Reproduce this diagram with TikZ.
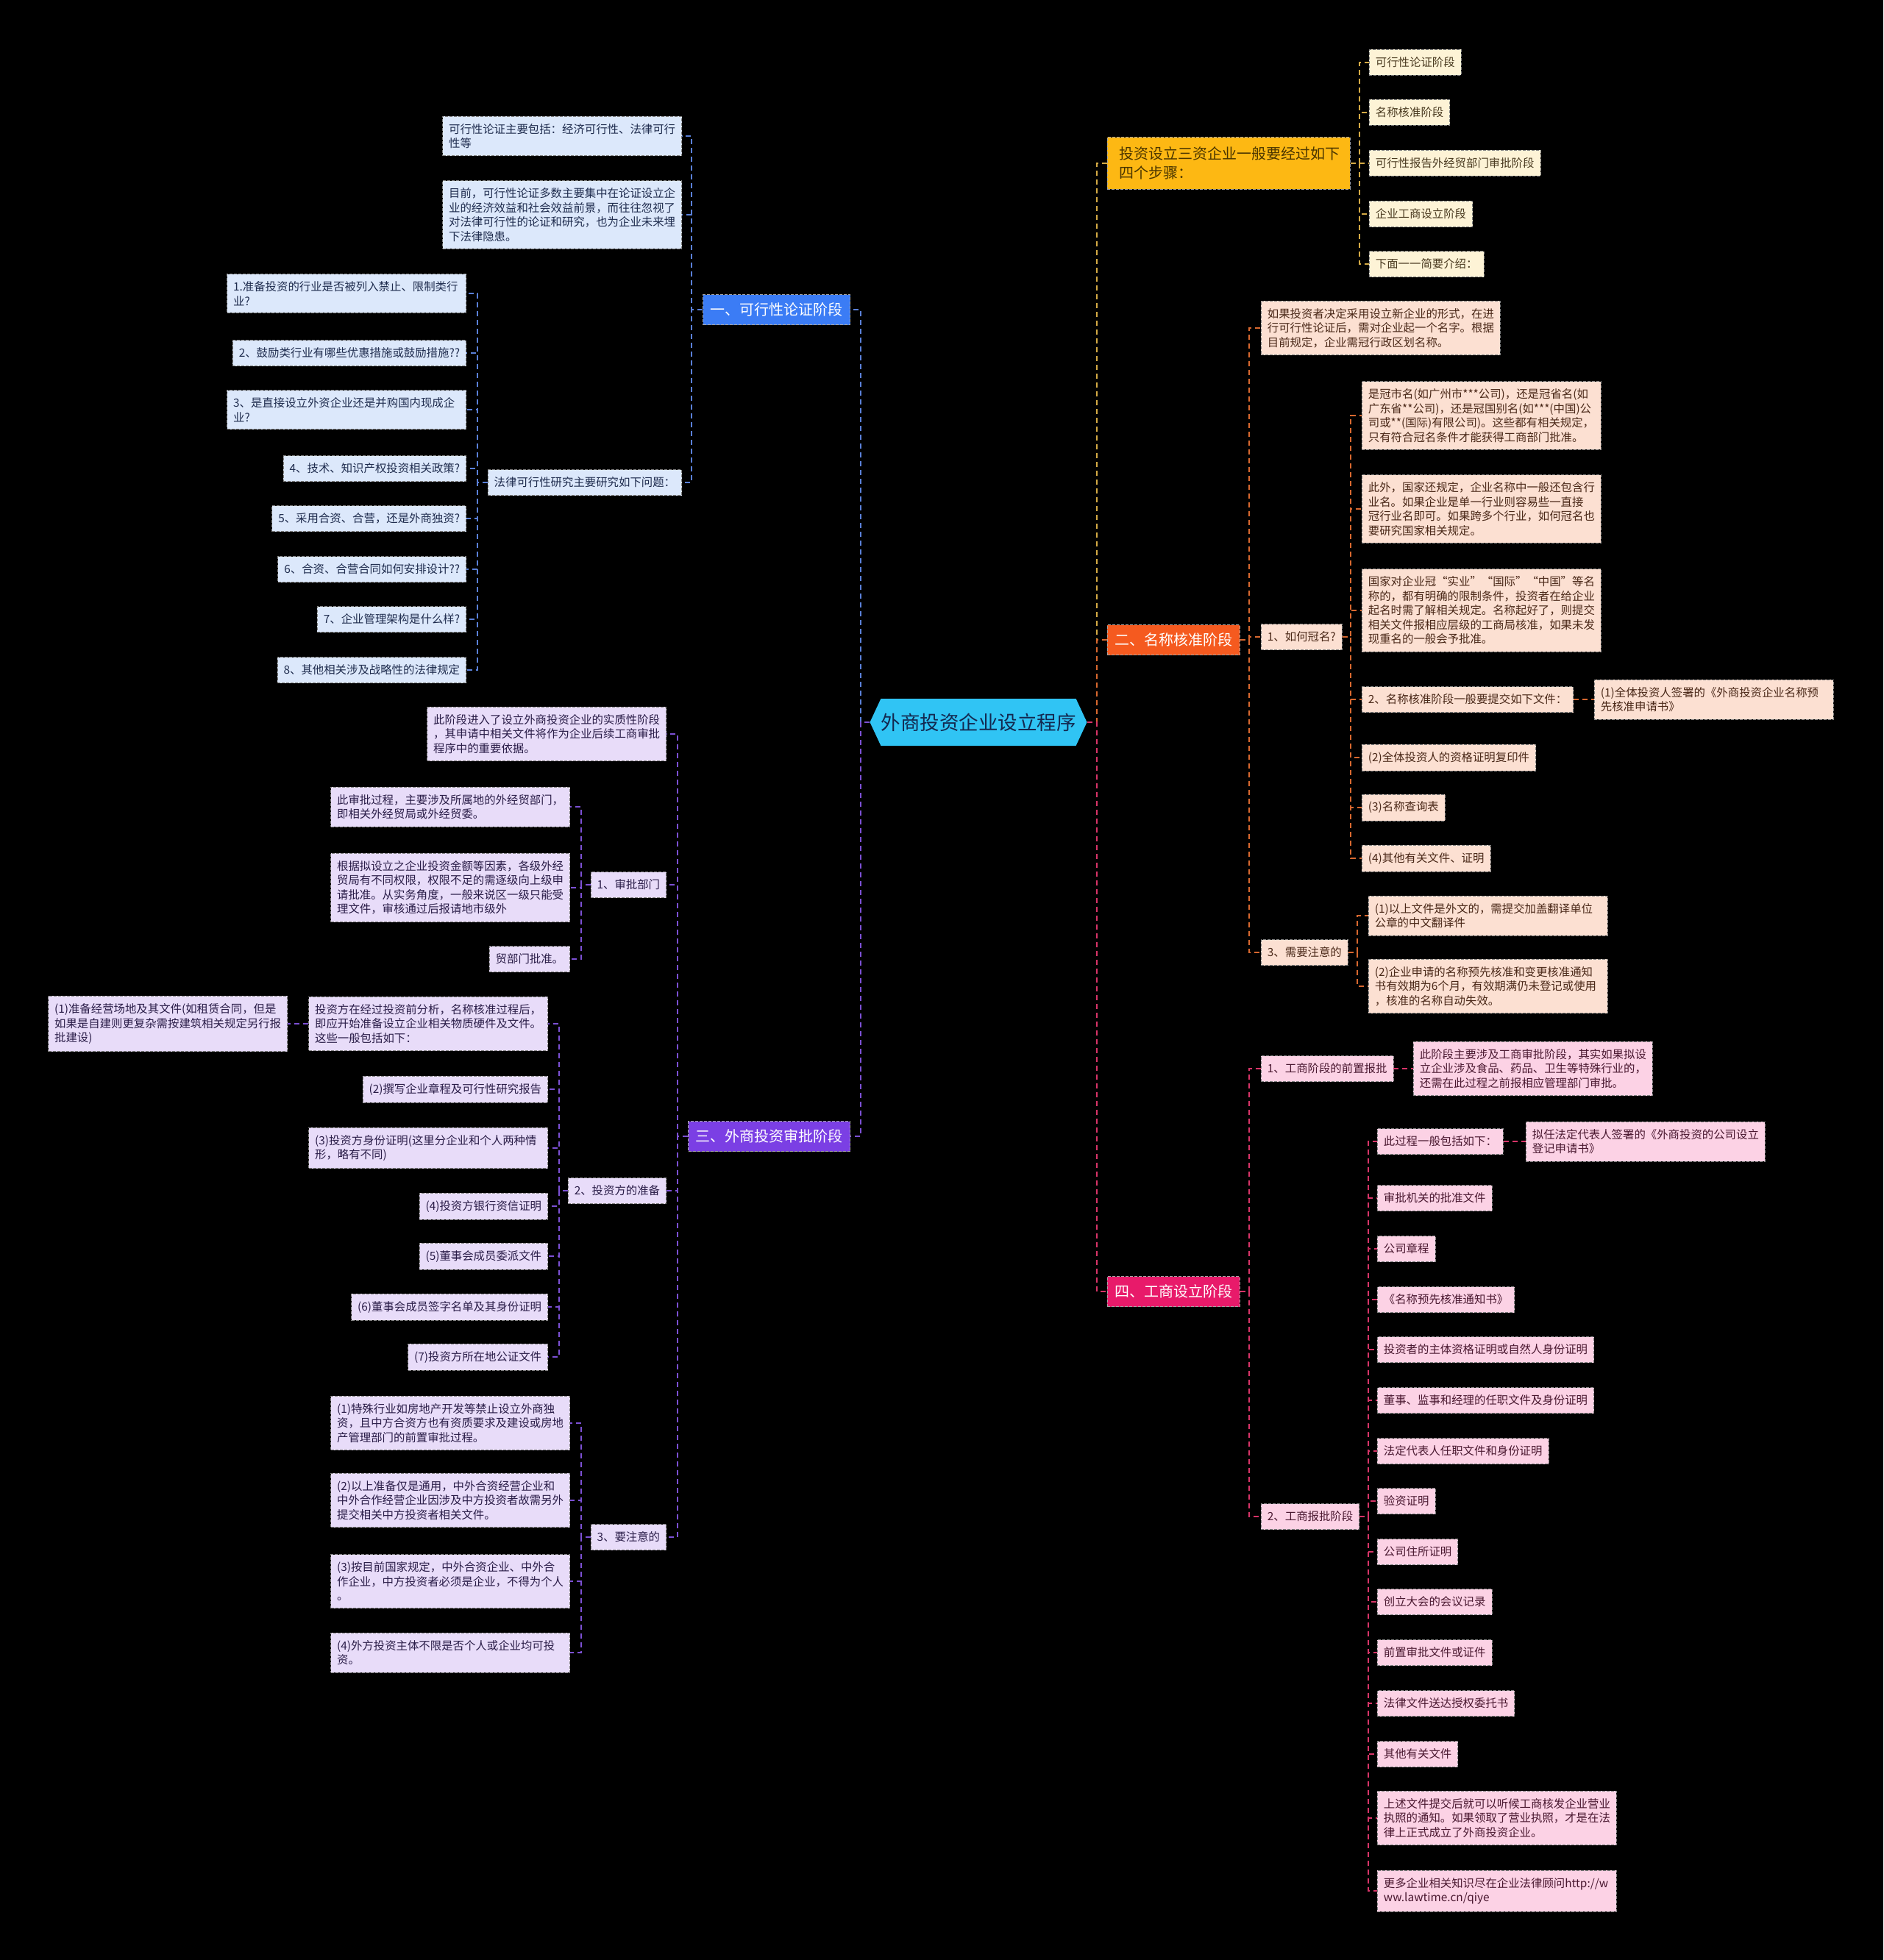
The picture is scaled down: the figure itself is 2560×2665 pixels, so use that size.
\documentclass[tikz,border=0pt]{standalone}
\usepackage{fontspec}
\setmainfont{Noto Sans CJK SC}
\usetikzlibrary{shapes.symbols}
\definecolor{rootc}{HTML}{30C4F4}
\definecolor{roott}{HTML}{13284F}
\definecolor{bluem}{HTML}{3B7CF5}
\definecolor{bluel}{HTML}{DCE8FB}
\definecolor{bluet}{HTML}{1F2C4E}
\definecolor{bluec}{HTML}{5A80D8}
\definecolor{purm}{HTML}{7B3FE4}
\definecolor{purl}{HTML}{E8DCF9}
\definecolor{purt}{HTML}{2A1D48}
\definecolor{purc}{HTML}{7C50D4}
\definecolor{ambm}{HTML}{FDB813}
\definecolor{ambmt}{HTML}{4A3500}
\definecolor{ambl}{HTML}{FDF3D6}
\definecolor{ambt}{HTML}{4A3A20}
\definecolor{ambc}{HTML}{D4AA45}
\definecolor{orm}{HTML}{F55A1F}
\definecolor{orl}{HTML}{FCE0D2}
\definecolor{ort}{HTML}{4A2818}
\definecolor{orc}{HTML}{D8682F}
\definecolor{crm}{HTML}{E81A6A}
\definecolor{crl}{HTML}{FCD2E5}
\definecolor{crt}{HTML}{4A1830}
\definecolor{crc}{HTML}{D83468}
\newcommand\mmlink[4]{\draw[#1] (#2) -- (#2 -| #3) |- (#4);}
\tikzset{
 leafbase/.style={font=\fontsize{15.4}{19.5}\selectfont, inner xsep=8.5pt, inner ysep=10pt, minimum height=35pt, draw=gray, dash pattern=on 4pt off 2pt, line width=0.8pt, align=left},
 para/.style={text width=308pt},
 bleaf/.style={leafbase, fill=bluel, text=bluet},
 pleaf/.style={leafbase, fill=purl, text=purt},
 aleaf/.style={leafbase, fill=ambl, text=ambt},
 oleaf/.style={leafbase, fill=orl, text=ort},
 cleaf/.style={leafbase, fill=crl, text=crt},
 mainbase/.style={font=\fontsize{20}{26}\selectfont, inner xsep=10pt, inner ysep=9pt, minimum height=41pt, draw=gray!70, dash pattern=on 4pt off 2pt, line width=0.8pt, align=left},
 linkbase/.style={dash pattern=on 7pt off 5pt, line width=2pt},
 bl/.style={linkbase, draw=bluec},
 pl/.style={linkbase, draw=purc},
 al/.style={linkbase, draw=ambc},
 ol/.style={linkbase, draw=orc},
 cl/.style={linkbase, draw=crc},
}
\begin{document}
\begin{tikzpicture}[x=1pt,y=-1pt]
\fill[black] (0,0) rectangle (2560,2665);
\useasboundingbox (0,0) rectangle (2560,2665);

% root
\node[signal, signal to=west and east, signal pointer angle=130, fill=rootc, text=roott, minimum width=295pt, minimum height=64pt, inner sep=0pt, font=\fontsize{26.5}{30}\selectfont] (root) at (1330,982) {外商投资企业设立程序};

% bus coordinates
\coordinate (rootL) at (1170,0);
\coordinate (rootR) at (1491,0);
\coordinate (busB) at (940,0);
\coordinate (busQ) at (649,0);
\coordinate (busP) at (921,0);
\coordinate (busP1) at (790,0);
\coordinate (busP2) at (760,0);
\coordinate (busP3) at (790,0);
\coordinate (busA) at (1848,0);
\coordinate (busO) at (1698,0);
\coordinate (busO2) at (1836,0);
\coordinate (busO3) at (1845,0);
\coordinate (busC) at (1698,0);
\coordinate (busC2) at (1860,0);

% ===== blue branch =====
\node[mainbase, fill=bluem, text=white, anchor=east] (b0) at (1156,421) {一、可行性论证阶段};
\node[bleaf, para, anchor=east] (b1) at (927,185) {可行性论证主要包括：经济可行性、法律可行\\性等};
\node[bleaf, para, anchor=east] (b2) at (927,292) {目前，可行性论证多数主要集中在论证设立企\\业的经济效益和社会效益前景，而往往忽视了\\对法律可行性的论证和研究，也为企业未来埋\\下法律隐患。};
\node[bleaf, anchor=east] (b3) at (927,656) {法律可行性研究主要研究如下问题：};
\node[bleaf, para, anchor=east] (q1) at (634,399) {1.准备投资的行业是否被列入禁止、限制类行\\业?};
\node[bleaf, anchor=east] (q2) at (634,480) {2、鼓励类行业有哪些优惠措施或鼓励措施??};
\node[bleaf, para, anchor=east] (q3) at (634,557) {3、是直接设立外资企业还是并购国内现成企\\业?};
\node[bleaf, anchor=east] (q4) at (634,637) {4、技术、知识产权投资相关政策?};
\node[bleaf, anchor=east] (q5) at (634,705) {5、采用合资、合营，还是外商独资?};
\node[bleaf, anchor=east] (q6) at (634,774) {6、合资、合营合同如何安排设计??};
\node[bleaf, anchor=east] (q7) at (634,842) {7、企业管理架构是什么样?};
\node[bleaf, anchor=east] (q8) at (634,911) {8、其他相关涉及战略性的法律规定};

% ===== purple branch =====
\node[mainbase, fill=purm, text=white, anchor=east] (p0) at (1156,1545) {三、外商投资审批阶段};
\node[pleaf, para, anchor=east] (pa) at (906,998) {此阶段进入了设立外商投资企业的实质性阶段\\，其申请中相关文件将作为企业后续工商审批\\程序中的重要依据。};
\node[pleaf, anchor=east] (p1) at (906,1203) {1、审批部门};
\node[pleaf, para, anchor=east] (p11) at (775,1097) {此审批过程，主要涉及所属地的外经贸部门，\\即相关外经贸局或外经贸委。};
\node[pleaf, para, anchor=east] (p12) at (775,1207) {根据拟设立之企业投资金额等因素，各级外经\\贸局有不同权限，权限不足的需逐级向上级申\\请批准。从实务角度，一般来说区一级只能受\\理文件，审核通过后报请地市级外};
\node[pleaf, anchor=east] (p13) at (775,1304) {贸部门批准。};
\node[pleaf, anchor=east] (p2) at (906,1619) {2、投资方的准备};
\node[pleaf, para, anchor=east] (p21) at (745,1392) {投资方在经过投资前分析，名称核准过程后，\\即应开始准备设立企业相关物质硬件及文件。\\这些一般包括如下：};
\node[pleaf, para, anchor=east] (p21a) at (391,1392) {(1)准备经营场地及其文件(如租赁合同，但是\\如果是自建则更复杂需按建筑相关规定另行报\\批建设)};
\node[pleaf, anchor=east] (p22) at (745,1481) {(2)撰写企业章程及可行性研究报告};
\node[pleaf, para, anchor=east] (p23) at (745,1561) {(3)投资方身份证明(这里分企业和个人两种情\\形，略有不同)};
\node[pleaf, anchor=east] (p24) at (745,1640) {(4)投资方银行资信证明};
\node[pleaf, anchor=east] (p25) at (745,1708) {(5)董事会成员委派文件};
\node[pleaf, anchor=east] (p26) at (745,1777) {(6)董事会成员签字名单及其身份证明};
\node[pleaf, anchor=east] (p27) at (745,1845) {(7)投资方所在地公证文件};
\node[pleaf, anchor=east] (p3) at (906,2090) {3、要注意的};
\node[pleaf, para, anchor=east] (p31) at (775,1935) {(1)特殊行业如房地产开发等禁止设立外商独\\资，且中方合资方也有资质要求及建设或房地\\产管理部门的前置审批过程。};
\node[pleaf, para, anchor=east] (p32) at (775,2040) {(2)以上准备仅是通用，中外合资经营企业和\\中外合作经营企业因涉及中方投资者故需另外\\提交相关中方投资者相关文件。};
\node[pleaf, para, anchor=east] (p33) at (775,2150) {(3)按目前国家规定，中外合资企业、中外合\\作企业，中方投资者必须是企业，不得为个人\\。};
\node[pleaf, para, anchor=east] (p34) at (775,2247) {(4)外方投资主体不限是否个人或企业均可投\\资。};

% ===== amber branch =====
\node[mainbase, fill=ambm, text=ambmt, text width=298pt, inner xsep=16pt, inner ysep=13pt, anchor=west] (a0) at (1505,222) {投资设立三资企业一般要经过如下\\四个步骤：};
\node[aleaf, anchor=west] (a1) at (1861,85) {可行性论证阶段};
\node[aleaf, anchor=west] (a2) at (1861,153) {名称核准阶段};
\node[aleaf, anchor=west] (a3) at (1861,222) {可行性报告外经贸部门审批阶段};
\node[aleaf, anchor=west] (a4) at (1861,291) {企业工商设立阶段};
\node[aleaf, anchor=west] (a5) at (1861,359) {下面一一简要介绍：};

% ===== orange branch =====
\node[mainbase, fill=orm, text=white, anchor=west] (o0) at (1505,870) {二、名称核准阶段};
\node[oleaf, para, anchor=west] (o1) at (1714,446) {如果投资者决定采用设立新企业的形式，在进\\行可行性论证后，需对企业起一个名字。根据\\目前规定，企业需冠行政区划名称。};
\node[oleaf, anchor=west] (o2) at (1714,866) {1、如何冠名?};
\node[oleaf, para, anchor=west] (o21) at (1851,565) {是冠市名(如广州市***公司)，还是冠省名(如\\广东省**公司)，还是冠国别名(如***(中国)公\\司或**(国际)有限公司)。这些都有相关规定，\\只有符合冠名条件才能获得工商部门批准。};
\node[oleaf, para, anchor=west] (o22) at (1851,692) {此外，国家还规定，企业名称中一般还包含行\\业名。如果企业是单一行业则容易些一直接\\冠行业名即可。如果跨多个行业，如何冠名也\\要研究国家相关规定。};
\node[oleaf, para, anchor=west] (o23) at (1851,830) {国家对企业冠“实业”“国际”“中国”等名\\称的，都有明确的限制条件，投资者在给企业\\起名时需了解相关规定。名称起好了，则提交\\相关文件报相应层级的工商局核准，如果未发\\现重名的一般会予批准。};
\node[oleaf, anchor=west] (o24) at (1851,951) {2、名称核准阶段一般要提交如下文件：};
\node[oleaf, para, anchor=west] (o241) at (2167,951) {(1)全体投资人签署的《外商投资企业名称预\\先核准申请书》};
\node[oleaf, anchor=west] (o25) at (1851,1030) {(2)全体投资人的资格证明复印件};
\node[oleaf, anchor=west] (o26) at (1851,1098) {(3)名称查询表};
\node[oleaf, anchor=west] (o27) at (1851,1167) {(4)其他有关文件、证明};
\node[oleaf, anchor=west] (o3) at (1714,1295) {3、需要注意的};
\node[oleaf, para, anchor=west] (o31) at (1860,1245) {(1)以上文件是外文的，需提交加盖翻译单位\\公章的中文翻译件};
\node[oleaf, para, anchor=west] (o32) at (1860,1341) {(2)企业申请的名称预先核准和变更核准通知\\书有效期为6个月，有效期满仍未登记或使用\\，核准的名称自动失效。};

% ===== crimson branch =====
\node[mainbase, fill=crm, text=white, anchor=west] (c0) at (1505,1756) {四、工商设立阶段};
\node[cleaf, anchor=west] (c1) at (1714,1453) {1、工商阶段的前置报批};
\node[cleaf, para, anchor=west] (c11) at (1921,1453) {此阶段主要涉及工商审批阶段，其实如果拟设\\立企业涉及食品、药品、卫生等特殊行业的，\\还需在此过程之前报相应管理部门审批。};
\node[cleaf, anchor=west] (c2) at (1714,2062) {2、工商报批阶段};
\node[cleaf, anchor=west] (d1) at (1872,1552) {此过程一般包括如下：};
\node[cleaf, para, anchor=west] (d1a) at (2074,1552) {拟任法定代表人签署的《外商投资的公司设立\\登记申请书》};
\node[cleaf, anchor=west] (d2) at (1872,1629) {审批机关的批准文件};
\node[cleaf, anchor=west] (d3) at (1872,1698) {公司章程};
\node[cleaf, anchor=west] (d4) at (1872,1767) {《名称预先核准通知书》};
\node[cleaf, anchor=west] (d5) at (1872,1835) {投资者的主体资格证明或自然人身份证明};
\node[cleaf, anchor=west] (d6) at (1872,1904) {董事、监事和经理的任职文件及身份证明};
\node[cleaf, anchor=west] (d7) at (1872,1973) {法定代表人任职文件和身份证明};
\node[cleaf, anchor=west] (d8) at (1872,2041) {验资证明};
\node[cleaf, anchor=west] (d9) at (1872,2110) {公司住所证明};
\node[cleaf, anchor=west] (d10) at (1872,2178) {创立大会的会议记录};
\node[cleaf, anchor=west] (d11) at (1872,2247) {前置审批文件或证件};
\node[cleaf, anchor=west] (d12) at (1872,2316) {法律文件送达授权委托书};
\node[cleaf, anchor=west] (d13) at (1872,2385) {其他有关文件};
\node[cleaf, para, anchor=west] (d14) at (1872,2472) {上述文件提交后就可以听候工商核发企业营业\\执照的通知。如果领取了营业执照，才是在法\\律上正式成立了外商投资企业。};
\node[cleaf, para, anchor=west] (d15) at (1872,2571) {更多企业相关知识尽在企业法律顾问http://w\\ww.lawtime.cn/qiye};

% ===== connectors =====
\mmlink{bl}{root.west}{rootL}{b0.east}
\mmlink{pl}{root.west}{rootL}{p0.east}
\mmlink{al}{root.east}{rootR}{a0.west}
\mmlink{ol}{root.east}{rootR}{o0.west}
\mmlink{cl}{root.east}{rootR}{c0.west}

\foreach \c in {b1,b2,b3} {\mmlink{bl}{b0.west}{busB}{\c.east}}
\foreach \c in {q1,q2,q3,q4,q5,q6,q7,q8} {\mmlink{bl}{b3.west}{busQ}{\c.east}}

\foreach \c in {pa,p1,p2,p3} {\mmlink{pl}{p0.west}{busP}{\c.east}}
\foreach \c in {p11,p12,p13} {\mmlink{pl}{p1.west}{busP1}{\c.east}}
\foreach \c in {p21,p22,p23,p24,p25,p26,p27} {\mmlink{pl}{p2.west}{busP2}{\c.east}}
\draw[pl] (p21.west) -- (p21a.east);
\foreach \c in {p31,p32,p33,p34} {\mmlink{pl}{p3.west}{busP3}{\c.east}}

\foreach \c in {a1,a2,a3,a4,a5} {\mmlink{al}{a0.east}{busA}{\c.west}}

\foreach \c in {o1,o2,o3} {\mmlink{ol}{o0.east}{busO}{\c.west}}
\foreach \c in {o21,o22,o23,o24,o25,o26,o27} {\mmlink{ol}{o2.east}{busO2}{\c.west}}
\draw[ol] (o24.east) -- (o241.west);
\foreach \c in {o31,o32} {\mmlink{ol}{o3.east}{busO3}{\c.west}}

\foreach \c in {c1,c2} {\mmlink{cl}{c0.east}{busC}{\c.west}}
\draw[cl] (c1.east) -- (c11.west);
\foreach \c in {d1,d2,d3,d4,d5,d6,d7,d8,d9,d10,d11,d12,d13,d14,d15} {\mmlink{cl}{c2.east}{busC2}{\c.west}}
\draw[cl] (d1.east) -- (d1a.west);
\end{tikzpicture}
\end{document}
